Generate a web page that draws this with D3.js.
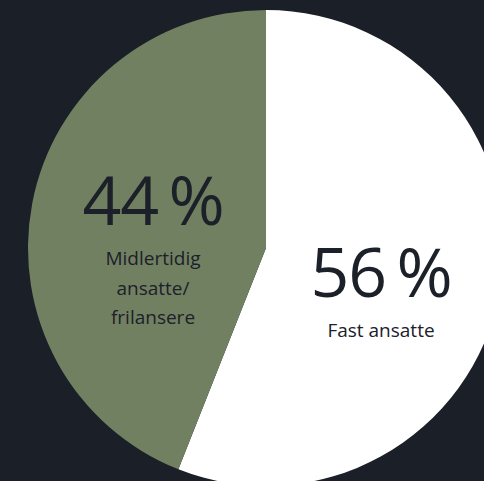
<!DOCTYPE html>
<meta charset="utf-8">
<html>
  <head>
    <title>Ansatte</title>
    <style>
      html,body{
        margin:0;
        padding:0;
        background:#1a1f28;
      }
      svg{ display:block; }
      text{
        font-family: 'Open Sans', 'Noto Sans', sans-serif;
        fill: #1b2029;
      }
      text.big-text{
        font-size: 68px;
        font-weight: 400;
        letter-spacing: -1px;
      }
      text.small-text{
        font-size: 19px;
        font-weight: 400;
      }
    </style>
  </head>
  <body>
    <svg xmlns="http://www.w3.org/2000/svg"></svg>
    <script src="https://d3js.org/d3.v7.min.js"></script>
    <script type="text/javascript">
      // data
      var categories = ['Fast ansatte', 'Midlertidig ansatte/ frilansere'];
      var values = [56, 44];
      var labelLines = [['Fast ansatte'], ['Midlertidig', 'ansatte/', 'frilansere']];
      var sliceColors = ['#ffffff', '#728062'];

      var width = 484, height = 481;
      var cx = 266, cy = 248, radius = 238;

      var svg = d3.select('svg')
        .attr('width', width)
        .attr('height', height);

      svg.append('rect')
        .attr('width', width)
        .attr('height', height)
        .attr('fill', '#1a1f28');

      var pie = d3.pie().sort(null).value(function(d){ return d; });
      var arc = d3.arc().innerRadius(0).outerRadius(radius);
      var arcs = pie(values);

      var g = svg.append('g').attr('transform', 'translate(' + cx + ',' + cy + ')');

      g.selectAll('path')
        .data(arcs)
        .enter().append('path')
          .attr('d', arc)
          .attr('fill', function(d, i){ return sliceColors[i]; });

      // label anchors: big number baseline, relative to pie centre
      var anchors = [[115, 49], [-113, -23]];
      var lineGap = 29.5;

      var labels = g.selectAll('g.label')
        .data(arcs)
        .enter().append('g')
          .attr('class', 'label')
          .attr('transform', function(d, i){ return 'translate(' + anchors[i][0] + ',' + anchors[i][1] + ')'; });

      labels.append('text')
        .attr('class', 'big-text')
        .attr('text-anchor', 'middle')
        .text(function(d){ return d.data + '\u2009%'; });

      labels.each(function(d, i){
        var sel = d3.select(this);
        labelLines[i].forEach(function(line, j){
          sel.append('text')
            .attr('class', 'small-text')
            .attr('text-anchor', 'middle')
            .attr('y', 40 + j * lineGap)
            .text(line);
        });
      });
    </script>
  </body>
</html>
